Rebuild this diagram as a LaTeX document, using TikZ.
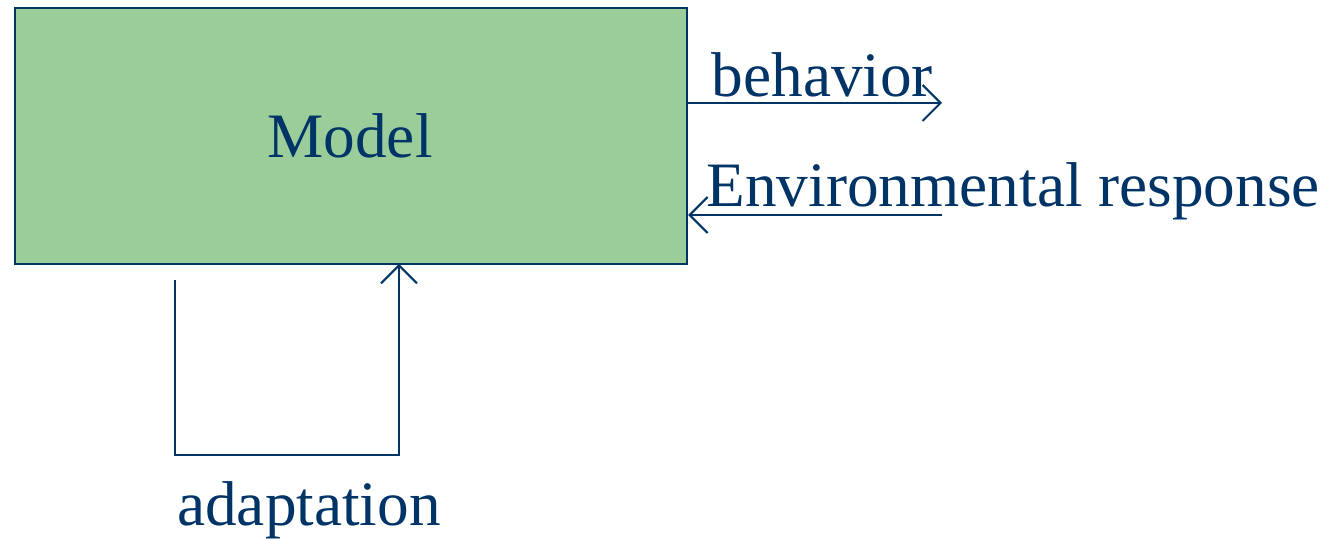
\documentclass[tikz,border=0pt]{standalone}
\usepackage{fontspec}
\setmainfont{Liberation Serif}
\usepackage{tikz}
\usetikzlibrary{arrows.meta,positioning}
\definecolor{navy}{HTML}{003366}
\definecolor{modelgreen}{HTML}{9BCD9A}

\begin{document}
\begin{tikzpicture}[
    >={Straight Barb[length=1.8mm,width=3.6mm]},
    flow/.style={draw=navy, line width=0.6pt},
    lbl/.style={text=navy, font=\fontsize{18}{22}\selectfont, inner sep=0pt, anchor=base}
]
    \useasboundingbox (0,0) rectangle (13.3,5.4);

    \node[draw=navy, line width=0.6pt, fill=modelgreen, minimum width=6.72cm, minimum height=2.56cm, inner sep=0pt] (model) at (3.51,4.04) {};
    \node[lbl] (modeltext) at (3.50,3.82) {Model};

    \coordinate (behend) at (9.42,4.37);
    \coordinate (envstart) at (9.42,3.25);
    \coordinate (adstart) at (1.75,2.60);
    \coordinate (adin) at (3.99,2.76);

    \draw[flow, ->] (model.east |- behend) -- (behend);
    \node[lbl, anchor=base west] (behavior) at (7.11,4.43) {behavior};

    \draw[flow, ->] (envstart) -- (model.east |- envstart);
    \node[lbl, anchor=base west] (envresp) at (7.06,3.33) {Environmental response};

    \draw[flow, ->] (adstart) -- (1.75,0.85) -- (3.99,0.85) -- (adin);
    \node[lbl] (adaptation) at (3.09,0.14) {adaptation};
\end{tikzpicture}
\end{document}
